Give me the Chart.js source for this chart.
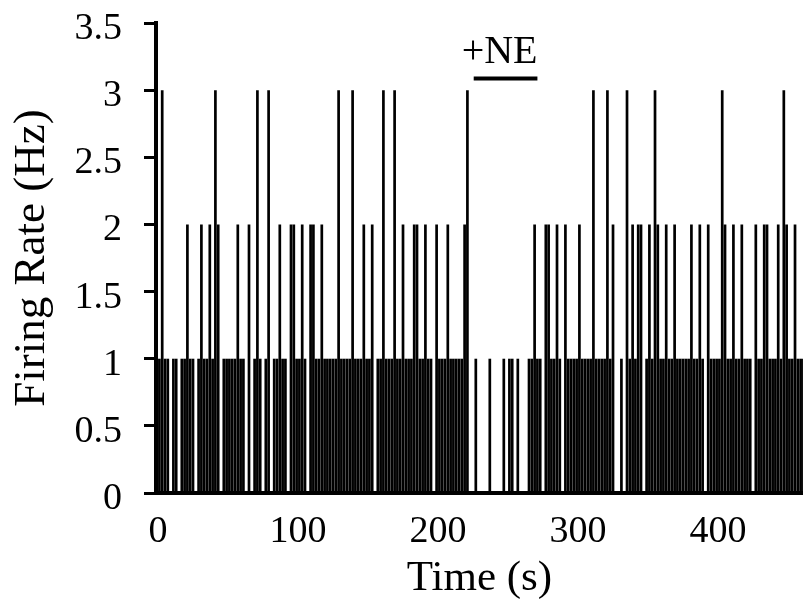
<!DOCTYPE html>
<html>
<head>
<meta charset="utf-8">
<script src="https://cdn.jsdelivr.net/npm/chart.js@4.4.1/dist/chart.umd.min.js"></script>
<style>
  html, body { margin: 0; padding: 0; background: #ffffff; }
  canvas { display: block; }
</style>
</head>
<body>
<canvas id="chart" width="803" height="605"></canvas>
<script>
// ---- data ----
const binWidth = 2; // seconds per histogram bin
// firing rate (Hz) of each consecutive 2-s bin, starting at t = 0 s
const rates = [
  1,3,1,1,0,1,1,0,1,1, 2,1,1,0,1,2,1,1,2,1,   // 0-40 s
  3,2,0,1,1,1,1,1,2,1, 1,0,2,0,1,3,1,0,1,3,   // 40-80 s
  0,1,1,2,1,1,0,2,2,1, 1,2,1,0,2,2,1,1,2,1,   // 80-120 s
  1,1,1,1,3,1,1,1,1,3, 1,1,1,2,1,1,2,0,1,1,   // 120-160 s
  3,1,1,1,3,1,1,2,1,1, 1,2,2,1,1,2,1,1,0,2,   // 160-200 s
  1,1,1,2,1,1,1,1,1,2, 3,0,0,1,0,0,0,0,1,0,   // 200-240 s
  0,0,0,1,0,1,1,0,1,0, 0,0,1,1,2,1,1,0,2,2,   // 240-280 s
  1,1,2,1,0,2,1,1,1,1, 2,1,1,1,1,3,1,1,1,1,   // 280-320 s
  3,1,2,0,0,1,0,3,1,2, 1,2,2,0,1,2,1,3,2,1,   // 320-360 s
  1,2,1,1,2,1,1,1,1,1, 2,1,1,2,1,0,2,1,1,1,   // 360-400 s
  1,3,2,1,1,2,1,1,2,1, 1,1,0,2,1,1,2,2,1,1,   // 400-440 s
  1,2,1,3,2,1,1,2,1,1, 1                      // 440-462 s
];
const binCenters = rates.map((_, k) => k * binWidth + binWidth / 2);

const xTickValues = [0, 100, 200, 300, 400];
const yTickValues = [0, 0.5, 1, 1.5, 2, 2.5, 3, 3.5];

const xTitle = 'Time (s)';
const yTitle = 'Firing Rate (Hz)';

// drug application bar (+NE)
const neLabel = '+NE';
const neTimes = [225.5, 271];
const neLevels = [3.086, 3.086];
const neLabelTime = 244;
const neLabelRate = 3.2;

// ---- chart ----
const serif = '"Liberation Serif", "Times New Roman", serif';

const neTextPlugin = {
  id: 'neText',
  afterDatasetsDraw(chart) {
    const { ctx, scales } = chart;
    ctx.save();
    ctx.font = '40px ' + serif;
    ctx.fillStyle = '#000';
    ctx.textAlign = 'center';
    ctx.textBaseline = 'alphabetic';
    ctx.fillText(neLabel, scales.x.getPixelForValue(neLabelTime), scales.y.getPixelForValue(neLabelRate));
    ctx.restore();
  }
};

new Chart(document.getElementById('chart'), {
  type: 'bar',
  data: {
    datasets: [
      {
        type: 'bar',
        label: 'Firing rate',
        data: binCenters.map((t, i) => ({ x: t, y: rates[i] })),
        backgroundColor: '#000',
        borderWidth: 0,
        barThickness: 2.7,
        inflateAmount: 0
      },
      {
        type: 'line',
        label: neLabel,
        data: neTimes.map((t, i) => ({ x: t, y: neLevels[i] })),
        borderColor: '#000',
        borderWidth: 4,
        borderCapStyle: 'butt',
        pointRadius: 0,
        fill: false
      }
    ]
  },
  options: {
    responsive: false,
    animation: false,
    devicePixelRatio: 1,
    layout: { padding: { top: 23, left: 0, right: 0, bottom: 0 } },
    plugins: {
      legend: { display: false },
      tooltip: { enabled: false }
    },
    scales: {
      x: {
        type: 'linear',
        offset: false,
        min: -1.43,
        max: 460.7,
        afterBuildTicks: (s) => { s.ticks = xTickValues.map(v => ({ value: v })); },
        afterFit: (s) => { s.height = 112; s.paddingLeft = 0; s.paddingRight = 0; },
        border: { display: true, color: '#000', width: 4 },
        grid: { display: true, drawOnChartArea: false, drawTicks: false, offset: false },
        ticks: {
          color: '#000',
          font: { family: serif, size: 38 },
          padding: 16,
          maxRotation: 0,
          autoSkip: false,
          callback: (v) => String(v)
        },
        title: {
          display: true,
          text: xTitle,
          color: '#000',
          font: { family: serif, size: 43 },
          padding: { top: 0, bottom: 0 }
        }
      },
      y: {
        type: 'linear',
        min: 0,
        max: 3.5,
        afterBuildTicks: (s) => { s.ticks = yTickValues.map(v => ({ value: v })); },
        afterFit: (s) => { s.width = 156; s.paddingTop = 0; s.paddingBottom = 0; },
        border: { display: true, color: '#000', width: 4 },
        grid: { display: true, drawOnChartArea: false, drawTicks: true, tickLength: 12, tickWidth: 3, tickColor: '#000' },
        ticks: {
          color: '#000',
          font: { family: serif, size: 38 },
          padding: 22,
          labelOffset: 6,
          callback: (v) => String(v)
        },
        title: {
          display: true,
          text: yTitle,
          color: '#000',
          font: { family: serif, size: 45 },
          padding: { top: 5, bottom: 0 }
        }
      }
    }
  },
  plugins: [neTextPlugin]
});
</script>
</body>
</html>
